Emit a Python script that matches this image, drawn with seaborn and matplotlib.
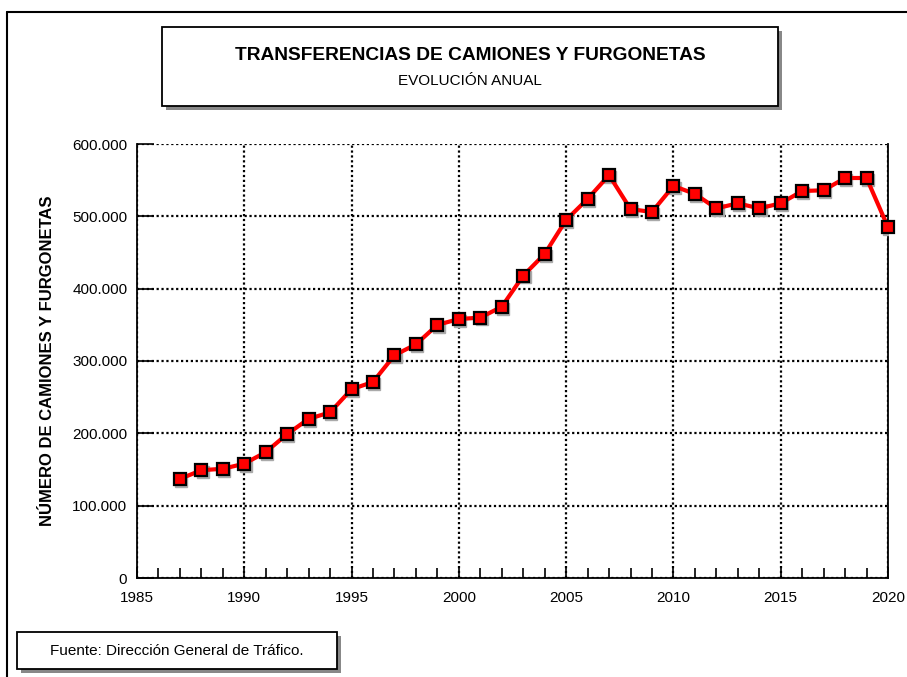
import numpy as np
import pandas as pd
import seaborn as sns
import matplotlib.pyplot as plt
from matplotlib.ticker import FuncFormatter, MultipleLocator
from matplotlib.patches import Rectangle
from matplotlib.lines import Line2D

# datos
anios = list(range(1987, 2021))
transferencias = [137000, 149000, 151000, 158000, 174000, 199000, 220000, 229000,
                  261000, 271000, 308000, 323000, 350000, 358000, 360000, 375000,
                  418000, 448000, 495000, 524000, 557000, 510000, 506000, 542000,
                  531000, 511000, 518000, 511000, 518000, 535000, 536000, 553000,
                  553000, 485000]

titulo = 'TRANSFERENCIAS DE CAMIONES Y FURGONETAS'
subtitulo = 'EVOLUCIÓN ANUAL'
etiqueta_y = 'NÚMERO DE CAMIONES Y FURGONETAS'
fuente = 'Fuente: Dirección General de Tráfico.'

dados = pd.DataFrame({'Año': anios, 'Transferencias': transferencias})

sns.set_style('white')
plt.rcParams['font.family'] = ['Liberation Sans', 'DejaVu Sans']
plt.rcParams['text.color'] = 'black'
plt.rcParams['axes.labelcolor'] = 'black'

W, H = 907, 677
fig = plt.figure(figsize=(W / 100, H / 100), dpi=100)
ax = fig.add_axes([137 / W, (H - 578) / H, (888 - 137) / W, (578 - 144) / H])

# sombra gris de los marcadores
ax.plot(dados['Año'] + 0.06, dados['Transferencias'] - 2500, linestyle='none',
        marker='s', markersize=8.5, color='#aaaaaa', zorder=4)
sns.lineplot(x='Año', y='Transferencias', data=dados, ax=ax, color='red',
             linewidth=3, marker='s', markersize=8, markerfacecolor='red',
             markeredgecolor='black', markeredgewidth=1.6, zorder=5, clip_on=False)

ax.set_xlim(1985, 2020)
ax.set_ylim(0, 600000)
ax.xaxis.set_major_locator(MultipleLocator(5))
ax.xaxis.set_minor_locator(MultipleLocator(1))
ax.yaxis.set_major_locator(MultipleLocator(100000))
ax.yaxis.set_major_formatter(FuncFormatter(lambda v, p: f'{int(v):,}'.replace(',', '.')))

ax.grid(True, which='major', color='black', linestyle=(0, (1.0, 1.2)), linewidth=1.6)
ax.tick_params(axis='both', which='both', bottom=True, left=True, direction='in',
               width=1.2, colors='black', labelsize=11)
ax.tick_params(axis='x', which='minor', length=7)
ax.tick_params(axis='x', which='major', length=8, pad=9)
ax.tick_params(axis='y', which='major', length=12, pad=7)

for s in ['left', 'bottom', 'right']:
    ax.spines[s].set_visible(True)
    ax.spines[s].set_color('black')
    ax.spines[s].set_linewidth(1.3)
ax.spines['top'].set_visible(False)

ax.set_xlabel('')
ax.set_ylabel(etiqueta_y, fontsize=12, fontweight='bold', labelpad=12, color='black')

# marco parcial de la figura
fig.add_artist(Line2D([7 / W, 7 / W], [0, 1 - 12 / H], color='black', lw=1.5))
fig.add_artist(Line2D([7 / W, 1], [1 - 12 / H, 1 - 12 / H], color='black', lw=1.5))


def caja(x0, y0, x1, y1):
    sombra = Rectangle((x0 / W + 4 / W, 1 - y1 / H - 4 / H), (x1 - x0) / W, (y1 - y0) / H,
                       transform=fig.transFigure, facecolor='#888888', edgecolor='none')
    marco = Rectangle((x0 / W, 1 - y1 / H), (x1 - x0) / W, (y1 - y0) / H,
                      transform=fig.transFigure, facecolor='white', edgecolor='black', lw=1.3)
    fig.add_artist(sombra)
    fig.add_artist(marco)


caja(162, 27, 778, 106)
fig.text(470 / W, 1 - 55 / H, titulo, ha='center', va='center', fontsize=13.8,
         fontweight='bold', color='black')
fig.text(470 / W, 1 - 81 / H, subtitulo, ha='center', va='center', fontsize=11,
         color='black')

caja(17, 632, 337, 669)
fig.text(177 / W, 1 - 651 / H, fuente, ha='center', va='center', fontsize=11,
         color='black')

plt.savefig('out.png', dpi=100)
